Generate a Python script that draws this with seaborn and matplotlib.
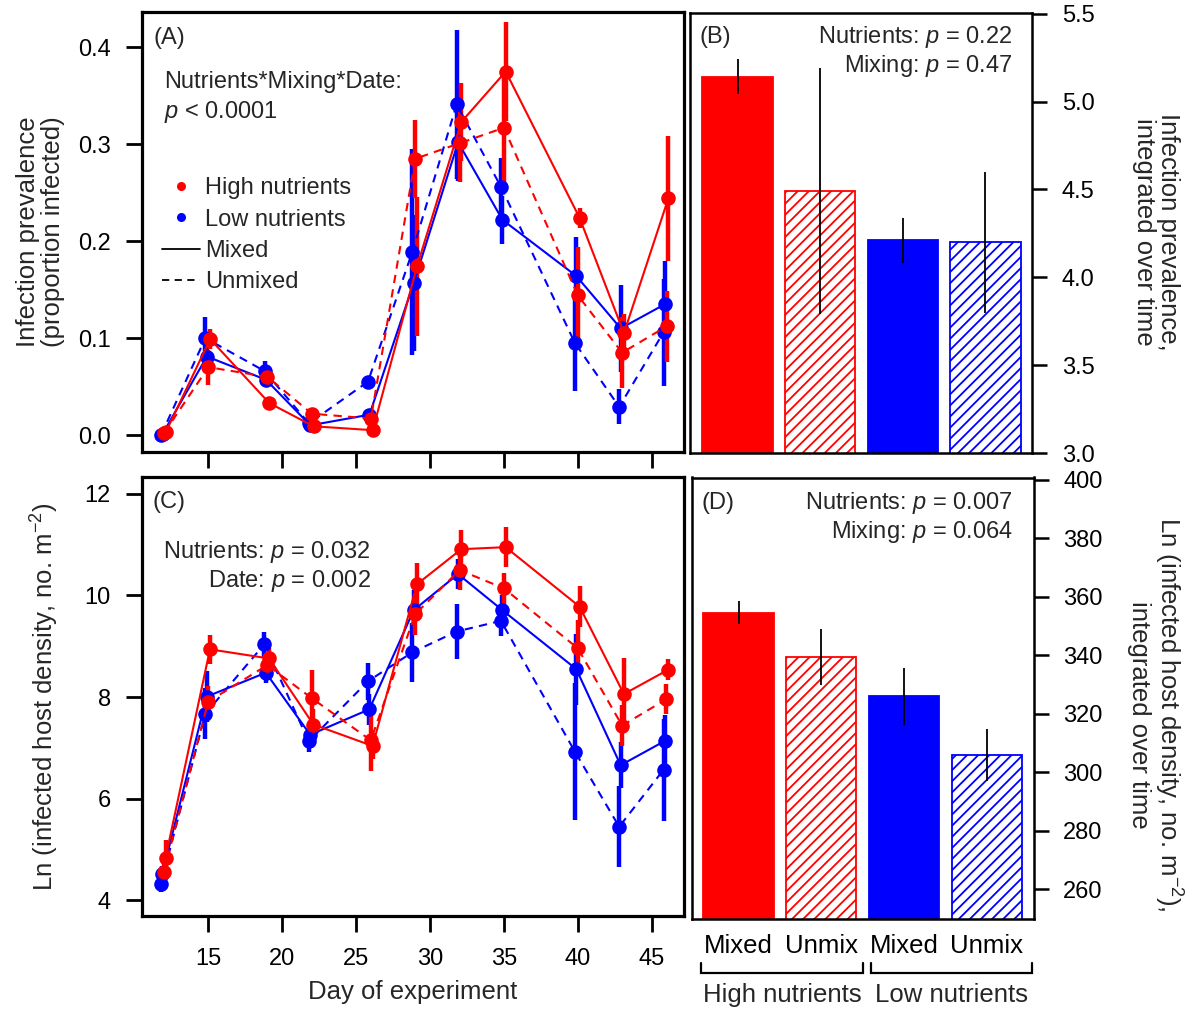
import numpy as np
import pandas as pd
import matplotlib
matplotlib.use('Agg')
import matplotlib.pyplot as plt
import matplotlib.transforms as mtransforms
from matplotlib.lines import Line2D
from matplotlib.legend_handler import HandlerLine2D
import seaborn as sns

# ---------------------------------------------------------------
# Data
# ---------------------------------------------------------------
days = [12, 15, 19, 22, 26, 29, 32, 35, 40, 43, 46]

# (A) infection prevalence, mean and SE
prev_high_mixed   = [0.003, 0.099, 0.033, 0.009, 0.005, 0.174, 0.323, 0.375, 0.224, 0.105, 0.244]
prev_high_unmixed = [0.002, 0.070, 0.060, 0.022, 0.017, 0.285, 0.301, 0.317, 0.144, 0.085, 0.112]
prev_low_mixed    = [0.001, 0.081, 0.057, 0.010, 0.021, 0.157, 0.302, 0.222, 0.164, 0.110, 0.135]
prev_low_unmixed  = [0.000, 0.100, 0.066, 0.012, 0.055, 0.189, 0.341, 0.256, 0.095, 0.029, 0.106]
prev_se_high_mixed   = [0.003, 0.010, 0.005, 0.004, 0.004, 0.072, 0.040, 0.051, 0.010, 0.020, 0.064]
prev_se_high_unmixed = [0.003, 0.018, 0.005, 0.005, 0.004, 0.040, 0.040, 0.061, 0.050, 0.037, 0.037]
prev_se_low_mixed    = [0.002, 0.010, 0.005, 0.004, 0.004, 0.070, 0.040, 0.025, 0.040, 0.045, 0.045]
prev_se_low_unmixed  = [0.002, 0.022, 0.010, 0.004, 0.004, 0.106, 0.077, 0.030, 0.050, 0.018, 0.055]

# (C) ln infected host density, mean and SE
dens_high_mixed   = [4.84, 8.94, 8.76, 7.46, 7.04, 10.22, 10.91, 10.95, 9.78, 8.06, 8.54]
dens_high_unmixed = [4.56, 7.91, 8.63, 7.98, 7.15, 9.63, 10.50, 10.14, 8.96, 7.44, 7.96]
dens_low_mixed    = [4.52, 8.01, 8.48, 7.26, 7.76, 9.71, 10.42, 9.71, 8.55, 6.66, 7.14]
dens_low_unmixed  = [4.32, 7.67, 9.04, 7.13, 8.31, 8.88, 9.29, 9.50, 6.93, 5.45, 6.57]
dens_se_high_mixed   = [0.35, 0.28, 0.20, 0.30, 0.25, 0.42, 0.38, 0.40, 0.40, 0.70, 0.20]
dens_se_high_unmixed = [0.30, 0.30, 0.20, 0.55, 0.60, 0.40, 0.40, 0.30, 0.55, 0.40, 0.30]
dens_se_low_mixed    = [0.15, 0.50, 0.20, 0.20, 0.30, 0.40, 0.30, 0.30, 0.70, 0.45, 0.50]
dens_se_low_unmixed  = [0.15, 0.50, 0.25, 0.20, 0.36, 0.58, 0.55, 0.30, 1.35, 0.80, 1.00]

# (B) and (D) integrated over time
treatments    = ['HM', 'HU', 'LM', 'LU']
treat_labels  = ['Mixed', 'Unmix', 'Mixed', 'Unmix']
treat_nutr    = ['High', 'High', 'Low', 'Low']
treat_mix     = ['Mixed', 'Unmixed', 'Mixed', 'Unmixed']
prev_integrated    = [5.14, 4.49, 4.21, 4.20]
prev_integrated_se = [0.10, 0.70, 0.13, 0.40]
dens_integrated    = [354.5, 339.4, 325.9, 305.9]
dens_integrated_se = [4.0, 9.7, 9.7, 9.0]
group_names = ['High nutrients', 'Low nutrients']

# ---------------------------------------------------------------
# Style
# ---------------------------------------------------------------
sns.set_theme(style='white')
plt.rcParams['font.family'] = ['Liberation Sans', 'DejaVu Sans']
plt.rcParams['mathtext.fontset'] = 'custom'
plt.rcParams['mathtext.rm'] = 'Liberation Sans'
plt.rcParams['mathtext.it'] = 'Liberation Sans:italic'
plt.rcParams['mathtext.bf'] = 'Liberation Sans:bold'
plt.rcParams['hatch.linewidth'] = 1.3
plt.rcParams['axes.edgecolor'] = 'black'

palette = {'High': '#ff0000', 'Low': '#0000ff'}
dodge = {('High', 'Mixed'): 0.12, ('High', 'Unmixed'): 0.0,
         ('Low', 'Mixed'): -0.1, ('Low', 'Unmixed'): -0.2}
TICK_FS = 17
TEXT_FS = 17
LAB_FS = 18.5


def long_table(series):
    rows = []
    for (nut, mix), (vals, ses) in series.items():
        for d, v, s in zip(days, vals, ses):
            rows.append({'day': d, 'xpos': d + dodge[(nut, mix)], 'value': v,
                         'se': s, 'nutrients': nut, 'mixing': mix})
    return pd.DataFrame(rows)


prev_df = long_table({
    ('Low', 'Unmixed'): (prev_low_unmixed, prev_se_low_unmixed),
    ('Low', 'Mixed'): (prev_low_mixed, prev_se_low_mixed),
    ('High', 'Unmixed'): (prev_high_unmixed, prev_se_high_unmixed),
    ('High', 'Mixed'): (prev_high_mixed, prev_se_high_mixed),
})
dens_df = long_table({
    ('Low', 'Unmixed'): (dens_low_unmixed, dens_se_low_unmixed),
    ('Low', 'Mixed'): (dens_low_mixed, dens_se_low_mixed),
    ('High', 'Unmixed'): (dens_high_unmixed, dens_se_high_unmixed),
    ('High', 'Mixed'): (dens_high_mixed, dens_se_high_mixed),
})

W, H = 1196, 1010
fig = plt.figure(figsize=(W / 100, H / 100), dpi=100)


def px_axes(left, top, right, bottom):
    return fig.add_axes([left / W, 1 - bottom / H, (right - left) / W, (bottom - top) / H])


axA = px_axes(141.7, 11.7, 683.5, 451.7)
axB = px_axes(690.0, 12.7, 1032.5, 453.3)
axC = px_axes(141.5, 477.0, 683.5, 915.7)
axD = px_axes(691.7, 477.5, 1034.0, 919.3)


def time_panel(ax, df, ylim, yticks, yfmt):
    for (nut, mix), g in df.groupby(['nutrients', 'mixing'], sort=False):
        ax.errorbar(g['xpos'], g['value'], yerr=g['se'], fmt='none',
                    ecolor=palette[nut], elinewidth=3.2, capsize=0, zorder=2)
    sns.lineplot(data=df, x='xpos', y='value', hue='nutrients', style='mixing',
                 hue_order=['Low', 'High'], palette=palette,
                 dashes={'Mixed': '', 'Unmixed': (4, 3)},
                 markers={'Mixed': 'o', 'Unmixed': 'o'},
                 markersize=10.5, markeredgewidth=0, linewidth=1.5,
                 estimator=None, errorbar=None, legend=False, ax=ax)
    ax.set_xlim(10.49, 47.15)
    ax.set_ylim(*ylim)
    ax.set_xticks([15, 20, 25, 30, 35, 40, 45])
    ax.set_yticks(yticks)
    ax.set_yticklabels([yfmt.format(t) for t in yticks])
    ax.set_xlabel('')
    ax.set_ylabel('')
    for sp in ax.spines.values():
        sp.set_linewidth(2.3)
        sp.set_color('black')
    ax.tick_params(axis='both', which='both', direction='out', length=11.5,
                   width=2.0, colors='black', labelsize=TICK_FS)
    ax.tick_params(axis='y', pad=10.5, left=True)
    ax.tick_params(axis='x', pad=12, bottom=True)


# ---------------- (A) ----------------
time_panel(axA, prev_df, (-0.0172, 0.4367), [0.0, 0.1, 0.2, 0.3, 0.4], '{:.1f}')
axA.tick_params(axis='x', labelbottom=False)
axA.set_ylabel('Infection prevalence\n(proportion infected)', fontsize=LAB_FS, linespacing=1.05)
axA.yaxis.set_label_coords(-0.142, 0.5)
axA.text(0.021, 0.9395, '(A)', transform=axA.transAxes, fontsize=TEXT_FS, va='center', ha='left')
axA.text(0.041, 0.841, 'Nutrients*Mixing*Date:', transform=axA.transAxes,
         fontsize=TEXT_FS, va='center', ha='left')
axA.text(0.041, 0.7727, '$p$ < 0.0001', transform=axA.transAxes,
         fontsize=TEXT_FS, va='center', ha='left')


class DotRight(HandlerLine2D):
    def get_xdata(self, legend, xdescent, ydescent, width, height, fontsize):
        xdata, _ = super().get_xdata(legend, xdescent, ydescent, width, height, fontsize)
        return xdata, np.array([-xdescent + 0.84 * width])


handles = [
    Line2D([], [], ls='none', marker='o', color=palette['High'], markersize=6.5, markeredgewidth=0),
    Line2D([], [], ls='none', marker='o', color=palette['Low'], markersize=6.5, markeredgewidth=0),
    Line2D([], [], color='black', lw=1.3),
    Line2D([], [], color='black', lw=1.3, dashes=(4, 3)),
]
axA.legend(handles, ['High nutrients', 'Low nutrients', 'Mixed', 'Unmixed'],
           loc='upper left', bbox_to_anchor=(0.038, 0.624), frameon=False,
           fontsize=TEXT_FS, handlelength=1.6, handletextpad=0.22,
           labelspacing=0.4, borderpad=0, borderaxespad=0, numpoints=1,
           handler_map={Line2D: DotRight()})

# ---------------- (C) ----------------
time_panel(axC, dens_df, (3.70, 12.33), [4, 6, 8, 10, 12], '{:d}')
axC.set_xlabel('Day of experiment', fontsize=LAB_FS, labelpad=7)
axC.set_ylabel('Ln (infected host density, no. m$^{-2}$)', fontsize=LAB_FS)
axC.yaxis.set_label_coords(-0.1485, 0.5)
axC.text(0.021, 0.943, '(C)', transform=axC.transAxes, fontsize=TEXT_FS, va='center', ha='left')
axC.text(0.4234, 0.8295, 'Nutrients: $p$ = 0.032', transform=axC.transAxes,
         fontsize=TEXT_FS, va='center', ha='right')
axC.text(0.4234, 0.7636, 'Date: $p$ = 0.002', transform=axC.transAxes,
         fontsize=TEXT_FS, va='center', ha='right')


# ---------------- (B) and (D) ----------------
def bar_panel(ax, values, ses, xlim, ylim, yticks, yfmt):
    df = pd.DataFrame({'treat': treatments, 'value': values, 'se': ses,
                       'nutrients': treat_nutr, 'mixing': treat_mix})
    colors = {t: palette[n] for t, n in zip(treatments, treat_nutr)}
    sns.barplot(data=df, x='treat', y='value', hue='treat', order=treatments,
                hue_order=treatments, palette=colors, width=0.85,
                errorbar=None, legend=False, saturation=1, ax=ax)
    for patch, nut, mix in zip(ax.patches, treat_nutr, treat_mix):
        patch.set_edgecolor(palette[nut])
        patch.set_linewidth(1.3)
        if mix == 'Unmixed':
            patch.set_facecolor('white')
            patch.set_hatch('///')
    ax.errorbar(range(len(treatments)), df['value'], yerr=df['se'], fmt='none',
                ecolor='black', elinewidth=1.3, capsize=0, zorder=3)
    ax.set_xlim(*xlim)
    ax.set_ylim(*ylim)
    ax.set_yticks(yticks)
    ax.set_yticklabels([yfmt.format(t) for t in yticks])
    ax.yaxis.tick_right()
    ax.set_xlabel('')
    ax.set_ylabel('')
    for sp in ax.spines.values():
        sp.set_linewidth(1.8)
        sp.set_color('black')
    ax.tick_params(axis='y', direction='out', length=10.5, width=1.8,
                   colors='black', labelsize=TICK_FS, pad=10.5, right=True, left=False)


bar_panel(axB, prev_integrated, prev_integrated_se, (-0.575, 3.569), (3.0, 5.505),
          [3.0, 3.5, 4.0, 4.5, 5.0, 5.5], '{:.1f}')
axB.tick_params(axis='x', bottom=False, labelbottom=False)
axB.text(0.029, 0.9455, '(B)', transform=axB.transAxes, fontsize=TEXT_FS, va='center', ha='left')
axB.text(0.942, 0.9455, 'Nutrients: $p$ = 0.22', transform=axB.transAxes,
         fontsize=TEXT_FS, va='center', ha='right')
axB.text(0.942, 0.8797, 'Mixing: $p$ = 0.47', transform=axB.transAxes,
         fontsize=TEXT_FS, va='center', ha='right')
axB.text(1.3606, 0.502, 'Infection prevalence,\nintegrated over time', transform=axB.transAxes,
         fontsize=LAB_FS, rotation=270, ha='center', va='center',
         multialignment='center', linespacing=1.05)

bar_panel(axD, dens_integrated, dens_integrated_se, (-0.566, 3.572), (249.8, 400.7),
          [260, 280, 300, 320, 340, 360, 380, 400], '{:d}')
axD.set_xticks(range(len(treatments)))
axD.set_xticklabels(treat_labels, fontsize=LAB_FS)
axD.tick_params(axis='x', bottom=True, length=0, pad=10.5, colors='black')
axD.text(0.03, 0.943, '(D)', transform=axD.transAxes, fontsize=TEXT_FS, va='center', ha='left')
axD.text(0.938, 0.943, 'Nutrients: $p$ = 0.007', transform=axD.transAxes,
         fontsize=TEXT_FS, va='center', ha='right')
axD.text(0.938, 0.877, 'Mixing: $p$ = 0.064', transform=axD.transAxes,
         fontsize=TEXT_FS, va='center', ha='right')
axD.text(1.3564, 0.463, 'Ln (infected host density, no. m$^{-2}$),\nintegrated over time',
         transform=axD.transAxes, fontsize=LAB_FS, rotation=270, ha='center',
         va='center', multialignment='center', linespacing=1.05)

# group brackets under (D)
trans = mtransforms.blended_transform_factory(axD.transData, axD.transAxes)
bracket_spans = [(-0.45, 1.5), (1.6, 3.55)]
for (x0, x1), name in zip(bracket_spans, group_names):
    axD.plot([x0, x0, x1, x1], [-0.098, -0.1222, -0.1222, -0.098], color='black',
             lw=1.6, transform=trans, clip_on=False, solid_joinstyle='miter')
    axD.text((x0 + x1) / 2, -0.171, name, transform=trans, fontsize=LAB_FS,
             ha='center', va='center')

fig.savefig('out.png', dpi=100)
